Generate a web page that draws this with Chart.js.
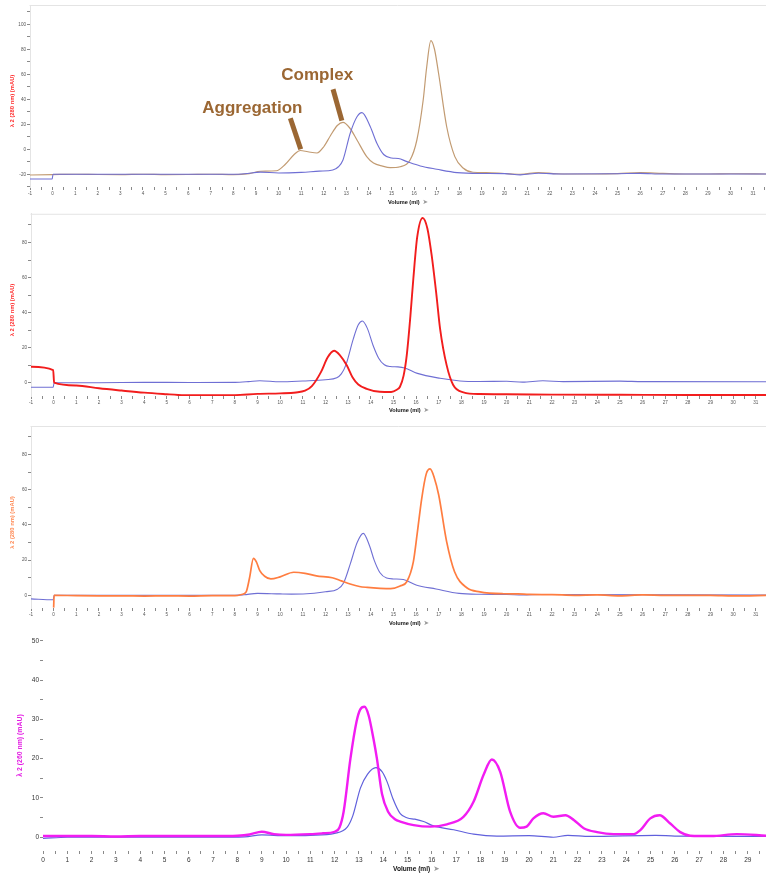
<!DOCTYPE html>
<html><head><meta charset="utf-8">
<script src="https://cdn.jsdelivr.net/npm/chart.js@4/dist/chart.umd.min.js"></script>
<style>
html,body{margin:0;padding:0;background:#fff;}
body{width:766px;height:878px;position:relative;overflow:hidden;}
canvas{position:absolute;left:0;display:block;}
</style></head><body>
<canvas id="c1" width="766" height="210" style="top:0px"></canvas>
<canvas id="c2" width="766" height="206" style="top:210px"></canvas>
<canvas id="c3" width="766" height="210" style="top:416px"></canvas>
<canvas id="c4" width="766" height="252" style="top:626px"></canvas>
<script>
// ---------- Panel 1 data (280 nm) ----------
const p1BrownX = [-1,0,1,2,3,4,5,6,7,8,8.7,9.2,9.9,10.3,10.7,10.96,11.3,11.7,12.0,12.3,12.6,12.85,13.15,13.47,13.9,14.2,14.6,14.94,15.38,15.82,16.12,16.4,16.55,16.74,16.9,17.08,17.44,17.8,18.18,18.6,19.2,20,20.7,21.5,22.3,23,24,25,26,27,28,29,30,31.6];
const p1BrownY = [-20.6,-20.3,-20,-20.2,-20.3,-20,-20.3,-20.2,-20,-20.3,-19.5,-17.6,-17.2,-12,-4,-1,-2,-3,2,11,19,21.5,17,7.4,-5.9,-11,-13.5,-14.7,-14,-8.6,7.4,39.4,65,86.9,80,60.8,18,-5.9,-15.2,-18.4,-18.7,-19.4,-20,-18.6,-19.6,-19.8,-19.8,-19.5,-18.7,-19.3,-19.8,-19.8,-19.6,-19.8];
const p1BlueX = [-1,-0.02,0.02,1,2,3,4,5,6,7,8,8.5,9.2,10,11,11.8,12.4,12.65,12.85,13.17,13.47,13.69,14.06,14.35,14.65,15.0,15.3,15.68,16.27,17.0,17.9,18.9,20,20.7,21.5,22.5,25,26,27,31.6];
const p1BlueY = [-23.8,-23.8,-20,-20,-20,-20,-20,-20,-20,-20,-20,-19.6,-18.3,-19,-18.5,-17.5,-16.6,-14,-8.6,12.8,26,29.3,18,4.8,-4.2,-7.0,-7.4,-9.9,-13.4,-16,-18.7,-19.4,-19.5,-20.5,-19.2,-19.8,-19.6,-19.3,-19.8,-19.8];

// ---------- Panel 2 data ----------
const p2RedX = [-1,-0.02,0.02,1,2,3,4,5,5.5,6,7,8,9,10,10.7,11.1,11.4,11.8,12.1,12.38,12.65,12.94,13.2,13.45,13.82,14.4,14.9,15.15,15.29,15.45,15.59,15.75,15.88,16.05,16.29,16.5,16.69,16.9,17.06,17.35,17.64,18.09,18.8,20,22,25,28,31.6];
const p2RedY = [9.1,7.2,0,-1.6,-3.2,-4.5,-5.7,-6.6,-7,-7.2,-7.2,-7.1,-6.4,-6.1,-5.6,-4.6,-2,6,14.5,18.2,15.5,10,3,-1,-3.5,-5.2,-5.3,-4,-2.3,4,15.7,38,59.3,83,94,88,72.6,50,30.9,10,-1.3,-5.5,-6.5,-6.6,-6.8,-6.9,-7,-7];
const p2BlueX = [-1,-0.02,0.02,2,4,6,8,8.6,9.1,10,11,12,12.5,12.7,12.9,13.23,13.45,13.63,13.85,14.1,14.35,14.6,14.86,15.2,15.5,16.06,17.06,17.94,18.8,20,20.7,21.6,22.5,25,26,31.6];
const p2BlueY = [-2.6,-2.6,0,0,0.2,0.1,0.2,0.6,1.1,0.5,1,1.7,2.8,5,10,25,33,35.2,31,21.4,14,10.2,9.2,9,8.4,5.3,2.5,1,0.7,0.8,0.3,1.1,0.6,0.9,0.6,0.5];

// ---------- Panel 3 data ----------
const p3OrangeX = [0,0.02,1,2,3,4,5,6,7,8,8.3,8.5,8.65,8.82,8.95,9.1,9.3,9.59,10,10.6,11.1,11.6,12.3,12.7,13.09,13.5,13.85,14.41,14.88,15.3,15.59,15.88,16.05,16.25,16.45,16.62,16.8,17.0,17.35,17.7,18.24,18.82,19.85,20.5,21,22,23,24,25,26,27,28,29,30,31.6];
const p3OrangeY = [-7,0,-0.2,-0.3,-0.3,-0.4,-0.3,-0.4,-0.2,-0.2,0.5,2,10,21,19,14,11,9.3,10.5,13.1,12.5,11.1,10,8.2,6.4,5,4.5,4,3.8,5.3,7.7,19,35,55,69,71.8,67,57,30.5,13.4,4.3,2,0.9,0.8,0.5,0.4,0,0.2,-0.3,0.2,0,0,0,-0.3,0];
const p3BlueX = [-1,-0.02,0.02,2,4,6,8,8.4,9,10,10.5,11.5,12,12.53,12.8,13.1,13.4,13.67,13.95,14.15,14.4,14.7,15.0,15.44,16.0,16.88,17.9,18.8,20,20.7,21.5,31.6];
const p3BlueY = [-2,-2.5,0,0,0,0,0,0.3,1.1,0.8,0.7,1.2,2,3.5,7,18,30,35.2,28,20,13,9.8,9.3,9.0,5.9,3.6,1.1,0.6,0.5,0.2,0.5,0.2];

// ---------- Panel 4 data (260 nm) ----------
const p4MagX = [0,1,2,3,4,5,6,7,8,8.5,9.0,9.5,10,11,11.5,12,12.2,12.37,12.65,12.9,13.05,13.23,13.4,13.6,13.74,13.95,14.2,14.5,14.7,15.25,15.94,16.62,17.3,17.72,18.13,18.47,18.81,19.22,19.63,19.9,20.18,20.59,21.0,21.5,21.84,22.25,22.8,23.48,24.3,24.58,24.99,25.37,25.81,26.22,26.63,27.5,28.55,29.75];
const p4MagY = [0.3,0.3,0.3,0.2,0.3,0.3,0.3,0.3,0.4,0.7,1.4,0.8,0.6,0.8,1,1.4,2.5,6.5,20,29.4,32.5,33.2,31,25,20,11,6.5,4.5,4,3.1,2.7,3.3,5.2,9.1,15.9,19.8,16.7,6.5,2.4,2.7,4.8,6.1,5.2,5.6,4.4,2.3,1.3,0.8,0.8,1.8,4.8,5.6,3.5,1.3,0.4,0.3,0.8,0.4];
const p4BlueX = [0,1,3,5,7,8.3,9,10,11,12,12.51,12.75,13.06,13.35,13.7,13.95,14.16,14.4,14.7,15.0,15.3,15.66,16.07,16.9,17.72,18.67,20,21,21.6,22.5,25.2,26,29.75];
const p4BlueY = [-0.3,0,0,0,0,0.1,0.6,0.4,0.5,1,2.5,5.5,12.5,16,17.7,16.7,14.1,9.8,6,4.9,4.6,4,2.9,1.9,0.8,0.3,0.4,0,0.5,0.2,0.5,0.3,0.2];

// ---------- Annotations (panel 1, data units) ----------
const annLabels = [
  {text:'Complex', x:11.71, y:59.4},
  {text:'Aggregation', x:8.84, y:33.0}
];
const annArrows = [
  {x1:12.41, y1:48, x2:12.8, y2:22.9},
  {x1:10.52, y1:24.8, x2:10.98, y2:0}
];

const FONT = '"Liberation Sans", Arial, sans-serif';
const BLUE = '#6f6fd4';

function pts(xs, ys){ return xs.map((x,i)=>({x:x, y:ys[i]})); }

function makePanel(id, o){
  const textPlugin = {
    id:'txt'+id,
    afterDraw(chart){
      const c = chart.ctx, a = chart.chartArea;
      c.save();
      if (o.frame){
        c.strokeStyle = '#e4e4e4'; c.lineWidth = 1;
        c.beginPath(); c.moveTo(a.left-0.5, a.top+0.5); c.lineTo(a.right, a.top+0.5); c.stroke();
      }
      c.save();
      c.translate(o.yTitleX, o.yTitleY);
      c.rotate(-Math.PI/2);
      c.fillStyle = o.yTitleColor;
      c.font = 'bold '+o.yTitleSize+'px '+FONT;
      c.textAlign='center'; c.textBaseline='middle';
      c.fillText(o.yTitle, 0, 0);
      c.restore();
      c.font = 'bold '+o.xTitleSize+'px '+FONT;
      c.fillStyle = '#111';
      c.textAlign='left'; c.textBaseline='middle';
      c.fillText('Volume (ml)', o.xTitleX, o.xTitleY);
      const w = c.measureText('Volume (ml)').width;
      c.fillStyle = '#9a9a9a';
      c.font = (o.xTitleSize+1)+'px "DejaVu Sans", sans-serif';
      c.fillText('\u27A4', o.xTitleX + w + 3, o.xTitleY);
      if (o.annotate){
        const xs = chart.scales.x, ys = chart.scales.y;
        c.strokeStyle = '#9b6733'; c.lineWidth = 5; c.lineCap='butt';
        annArrows.forEach(r=>{
          c.beginPath();
          c.moveTo(xs.getPixelForValue(r.x1), ys.getPixelForValue(r.y1));
          c.lineTo(xs.getPixelForValue(r.x2), ys.getPixelForValue(r.y2));
          c.stroke();
        });
        c.fillStyle = '#9b6733';
        c.font = 'bold 17px '+FONT;
        c.textAlign='center'; c.textBaseline='middle';
        annLabels.forEach(l=>{
          c.fillText(l.text, xs.getPixelForValue(l.x), ys.getPixelForValue(l.y));
        });
      }
      c.restore();
    }
  };
  return new Chart(document.getElementById(id), {
    type:'line',
    data:{datasets:o.series.map(s=>({
      data:pts(s.x, s.y), borderColor:s.color, borderWidth:s.width,
      pointRadius:0, fill:false, cubicInterpolationMode:'monotone', order:s.order
    }))},
    options:{
      responsive:false, animation:false, events:[],
      layout:{padding:{top:o.padTop, left:0, right:0, bottom:0}},
      plugins:{legend:{display:false}, tooltip:{enabled:false}},
      scales:{
        x:{type:'linear', min:o.xMin, max:o.xMax,
          afterFit:s=>{ s.height = o.xH; },
          border:{display:false},
          grid:{display:true, drawOnChartArea:false, drawTicks:true, tickLength:3, color:'#8a8a8a', lineWidth:1},
          ticks:{stepSize:0.5, includeBounds:false, autoSkip:false, maxRotation:0, minRotation:0,
            padding:o.xTickPad, color:o.tickColor, font:{size:o.tickSize, family:FONT},
            callback:v=> Number.isInteger(v) ? String(v) : ''}
        },
        y:{type:'linear', min:o.yMin, max:o.yMax,
          afterFit:s=>{ s.width = o.yW; },
          border:{display:o.frame, color:'#e4e4e4'},
          grid:{display:true, drawOnChartArea:false, drawTicks:true, tickLength:3, color:'#8a8a8a', lineWidth:1},
          ticks:{stepSize:o.yStep, includeBounds:false, autoSkip:false, padding:1,
            color:o.tickColor, font:{size:o.tickSize, family:FONT},
            callback:v=> (Math.abs(v % o.yLabelEvery) < 1e-9) ? String(v) : ''}
        }
      }
    },
    plugins:[textPlugin]
  });
}

makePanel('c1', {
  padTop:5, yW:30, xH:23, xMin:-1, xMax:31.57, yMin:-30.2, yMax:115.4,
  yStep:10, yLabelEvery:20, tickSize:4.6, tickColor:'#555', xTickPad:1, frame:true,
  yTitle:'\u03BB 2 (280 nm) (mAU)', yTitleColor:'#ff3030', yTitleSize:5.8, yTitleX:12, yTitleY:101,
  xTitleX:388, xTitleY:202, xTitleSize:5.6, annotate:true,
  series:[
    {x:p1BrownX, y:p1BrownY, color:'#c29b72', width:1.2, order:2},
    {x:p1BlueX, y:p1BlueY, color:BLUE, width:1.1, order:1}
  ]
});
makePanel('c2', {
  padTop:3, yW:31, xH:20, xMin:-1, xMax:31.45, yMin:-7.6, yMax:96.4,
  yStep:10, yLabelEvery:20, tickSize:4.6, tickColor:'#555', xTickPad:1, frame:true,
  yTitle:'\u03BB 2 (280 nm) (mAU)', yTitleColor:'#ff3030', yTitleSize:5.8, yTitleX:12, yTitleY:100,
  xTitleX:389, xTitleY:200.7, xTitleSize:5.6, annotate:false,
  series:[
    {x:p2BlueX, y:p2BlueY, color:BLUE, width:1.1, order:2},
    {x:p2RedX, y:p2RedY, color:'#f21d1d', width:1.9, order:1}
  ]
});
makePanel('c3', {
  padTop:10, yW:31, xH:18, xMin:-1, xMax:31.45, yMin:-7.2, yMax:96.2,
  yStep:10, yLabelEvery:20, tickSize:4.6, tickColor:'#555', xTickPad:1, frame:true,
  yTitle:'\u03BB 2 (280 nm) (mAU)', yTitleColor:'#ff8a55', yTitleSize:5.8, yTitleX:12, yTitleY:106.5,
  xTitleX:389, xTitleY:207.3, xTitleSize:5.6, annotate:false,
  series:[
    {x:p3BlueX, y:p3BlueY, color:BLUE, width:1.1, order:2},
    {x:p3OrangeX, y:p3OrangeY, color:'#ff7d40', width:1.7, order:1}
  ]
});
makePanel('c4', {
  padTop:5, yW:43, xH:27, xMin:0, xMax:29.75, yMin:-3.5, yMax:52.5,
  yStep:5, yLabelEvery:10, tickSize:6.5, tickColor:'#333', xTickPad:2, frame:false,
  yTitle:'\u03BB 2 (260 nm) (mAU)', yTitleColor:'#e41fe4', yTitleSize:6.9, yTitleX:20, yTitleY:119.5,
  xTitleX:393, xTitleY:243.3, xTitleSize:6.6, annotate:false,
  series:[
    {x:p4BlueX, y:p4BlueY, color:'#6060dc', width:1.2, order:2},
    {x:p4MagX, y:p4MagY, color:'#f21cf2', width:2.4, order:1}
  ]
});
</script>
</body></html>
